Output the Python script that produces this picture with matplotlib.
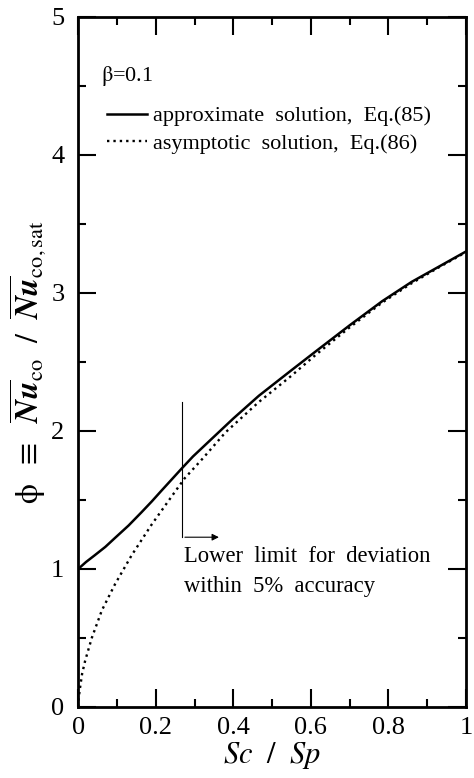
import numpy as np
import matplotlib
matplotlib.use("Agg")
from matplotlib import pyplot as plt

plt.rcParams['font.family'] = ['Liberation Serif', 'DejaVu Serif']
plt.rcParams['mathtext.fontset'] = 'stix'

# values
sc_approx = [0.0, 0.02, 0.043, 0.07, 0.095, 0.13, 0.163, 0.19, 0.214, 0.24, 0.266, 0.296, 0.33, 0.40, 0.466, 0.55, 0.612, 0.70, 0.784, 0.86, 0.93, 1.0]
phi_approx = [1.0, 1.05, 1.10, 1.16, 1.225, 1.315, 1.41, 1.49, 1.565, 1.645, 1.725, 1.815, 1.905, 2.09, 2.255, 2.44, 2.575, 2.765, 2.94, 3.08, 3.19, 3.30]

sc_asym = [0.0, 0.001, 0.005, 0.01, 0.018, 0.035, 0.061, 0.095, 0.138, 0.189, 0.232, 0.274, 0.321, 0.38, 0.466, 0.55, 0.612, 0.70, 0.784, 0.86, 0.93, 1.0]
phi_asym = [0.0, 0.06, 0.144, 0.24, 0.336, 0.50, 0.70, 0.89, 1.10, 1.32, 1.49, 1.655, 1.80, 1.99, 2.21, 2.40, 2.55, 2.75, 2.93, 3.07, 3.185, 3.295]

x_ticks = [0, 0.2, 0.4, 0.6, 0.8, 1]
x_labels = ['0', '0.2', '0.4', '0.6', '0.8', '1']
y_ticks = [0, 1, 2, 3, 4, 5]

fig = plt.figure(figsize=(4.74, 7.78), dpi=100)
ax = fig.add_axes([0.165, 0.0913, 0.818, 0.887])

ax.plot(sc_approx, phi_approx, color='black', lw=1.8, label='approximate  solution,  Eq.(85)')
ax.plot(sc_asym, phi_asym, color='black', lw=1.7, ls=(0, (1.0, 1.7)), label='asymptotic  solution,  Eq.(86)')

ax.set_xlim(0, 1)
ax.set_ylim(0, 5)
ax.set_xticks(x_ticks)
ax.set_xticklabels(x_labels)
ax.set_yticks(y_ticks)
ax.set_xticks(np.arange(0.1, 1.0, 0.2), minor=True)
ax.set_yticks(np.arange(0.5, 5.0, 1.0), minor=True)
ax.tick_params(which='both', direction='in', top=True, right=True, width=1.5, labelsize=19)
ax.tick_params(which='major', length=13)
ax.tick_params(which='minor', length=6)
ax.tick_params(axis='y', pad=10)
ax.tick_params(axis='x', pad=7)
for s in ax.spines.values():
    s.set_linewidth(2)

ax.set_xlabel(r'$Sc\ \ /\ \ Sp$', fontsize=22, labelpad=1)
ax.set_ylabel(r'$\mathrm{\phi}\ \ \equiv\ \ \overline{\mathbfit{Nu}}_{\mathrm{co}}\ \ /\ \ \overline{\mathbfit{Nu}}_{\mathrm{co,sat}}$',
              fontsize=23, labelpad=2)

ax.text(0.06, 4.57, r'$\mathrm{\beta}$=0.1', fontsize=16, va='center')
leg = ax.legend(loc='upper left', bbox_to_anchor=(0.073, 0.871), frameon=False, fontsize=16,
                handlelength=1.8, handletextpad=0.3, labelspacing=0.3, borderaxespad=0,
                borderpad=0)

# lower limit marker
ax.plot([0.268, 0.268], [1.23, 2.21], color='black', lw=0.8)
ax.annotate('', xy=(0.37, 1.23), xytext=(0.268, 1.23),
            arrowprops=dict(arrowstyle='-|>', color='black', lw=0.8, mutation_scale=10))
ax.text(0.272, 1.09, 'Lower  limit  for  deviation', fontsize=16.3, va='center')
ax.text(0.272, 0.875, 'within  5%  accuracy', fontsize=16.3, va='center')

fig.savefig('out.png', dpi=100)
